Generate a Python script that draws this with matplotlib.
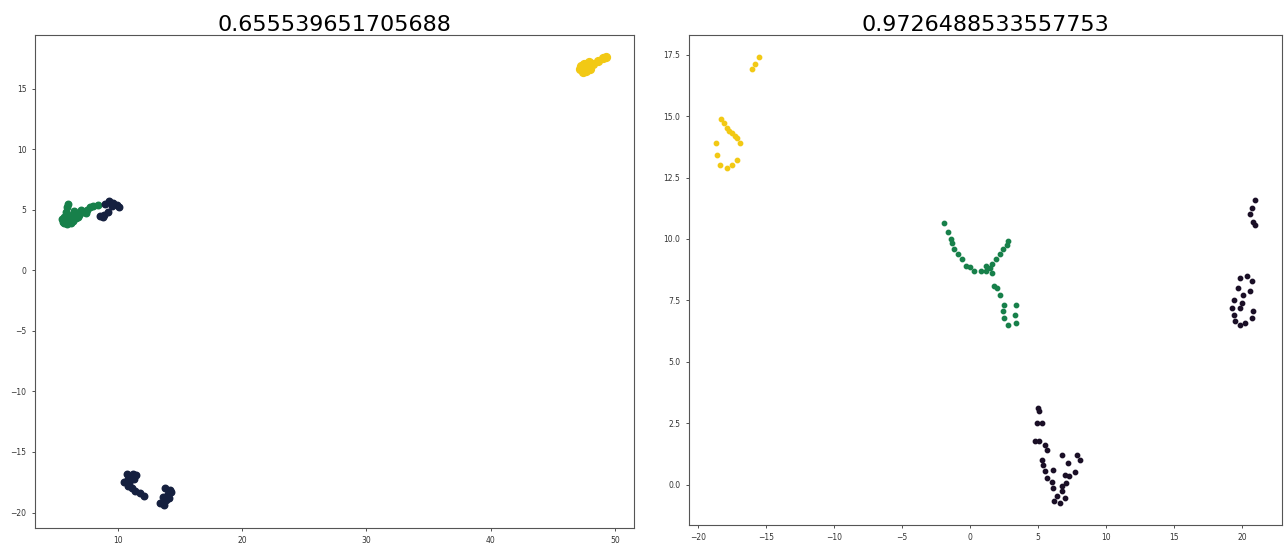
import numpy as np
import matplotlib
matplotlib.use("Agg")
import matplotlib.pyplot as plt
from matplotlib.ticker import MultipleLocator

# ---------------- data ----------------
TITLE_L = "0.655539651705688"
TITLE_R = "0.9726488533557753"

# left panel
l_yellow_x = [47.2, 47.5, 47.8, 47.4, 47.9, 48.2, 48.6, 49.0, 49.3, 47.6, 48.0, 47.3, 47.7]
l_yellow_y = [16.6, 17.0, 16.8, 16.4, 17.2, 17.0, 17.3, 17.5, 17.6, 16.7, 16.6, 16.9, 16.5]

l_green_x = [5.6, 5.7, 5.8, 5.9, 6.0, 5.9, 6.1, 6.3, 6.5, 6.2, 6.6, 6.9, 7.2, 7.5,
             7.8, 6.0, 5.7, 6.4, 7.0, 8.0, 8.4, 5.5, 6.8, 7.4]
l_green_y = [4.0, 4.4, 4.8, 5.2, 5.5, 3.8, 4.2, 4.6, 4.9, 3.9, 4.3, 4.6, 4.8, 5.0,
             5.2, 4.5, 3.9, 4.1, 5.0, 5.3, 5.4, 4.2, 4.4, 4.7]

l_navy_x = [8.6, 8.9, 9.2, 9.0, 9.3, 9.6, 9.9, 10.1, 9.5, 8.8,
            10.7, 10.8, 11.2, 11.3, 11.5, 10.5, 10.8, 11.1, 11.4, 11.8, 12.1, 10.9,
            13.8, 14.2, 14.0, 13.6, 13.9, 13.4, 13.7, 14.1, 14.3]
l_navy_y = [4.5, 4.6, 4.8, 5.5, 5.7, 5.6, 5.4, 5.2, 5.3, 4.4,
            -16.8, -17.2, -16.8, -17.2, -16.9, -17.5, -17.8, -18.0, -18.2, -18.4, -18.6, -17.6,
            -18.0, -18.1, -18.5, -18.7, -19.0, -19.2, -19.4, -18.8, -18.3]

# right panel
r_yellow_x = [-15.5, -16.0, -15.8, -18.3, -18.1, -17.9, -17.7, -17.5, -17.3, -17.1,
              -16.9, -18.7, -18.6, -18.4, -17.9, -17.5, -17.1]
r_yellow_y = [17.4, 16.9, 17.1, 14.9, 14.7, 14.5, 14.4, 14.3, 14.2, 14.1,
              13.9, 13.9, 13.4, 13.0, 12.9, 13.0, 13.2]

r_green_x = [-1.9, -1.65, -1.4, -1.3, -1.15, -0.9, -0.6, -0.3, 0.0, 0.3, 0.8, 1.2,
             1.45, 1.6, 1.9, 2.2, 2.4, 2.75, 2.8, 1.8, 2.0, 2.2, 2.5, 2.4, 2.5, 2.8,
             3.4, 3.3, 3.4, 1.2, 1.6]
r_green_y = [10.65, 10.3, 10.0, 9.85, 9.6, 9.4, 9.2, 8.9, 8.85, 8.7, 8.7, 8.7,
             8.8, 9.0, 9.2, 9.4, 9.6, 9.75, 9.9, 8.1, 8.0, 7.7, 7.3, 7.05, 6.8, 6.5,
             7.3, 6.9, 6.6, 8.9, 8.6]

r_dark_x = [4.98, 5.1, 4.9, 5.3, 4.75, 5.1, 5.5, 5.7, 5.3, 5.35, 5.5, 5.7, 6.0, 6.1,
            6.4, 6.6, 6.2, 7.0, 6.1, 6.8, 7.2, 7.9, 8.1, 7.7, 7.3, 7.0, 7.1, 6.8, 6.75,
            21.0, 20.75, 20.6, 20.85, 21.0,
            19.9, 20.4, 20.75, 19.7, 20.1, 20.6, 19.4, 20.0, 19.3, 19.9, 20.85, 19.4,
            20.75, 19.5, 19.9, 20.25]
r_dark_y = [3.13, 3.0, 2.5, 2.5, 1.8, 1.8, 1.6, 1.4, 1.0, 0.8, 0.57, 0.28, 0.1, -0.12,
            -0.45, -0.73, -0.65, -0.53, 0.6, 1.2, 0.9, 1.2, 1.0, 0.5, 0.37, 0.4, 0.08, -0.04, -0.25,
            11.6, 11.25, 11.0, 10.7, 10.55,
            8.4, 8.5, 8.3, 8.0, 7.7, 7.9, 7.5, 7.4, 7.2, 7.2, 7.07, 6.9,
            6.8, 6.67, 6.5, 6.6]

YELLOW = "#f2c914"
GREEN = "#17804a"
NAVY = "#15203f"
DARK = "#1a0f26"

# ---------------- plot ----------------
fig = plt.figure(figsize=(12.85, 5.44), dpi=100)
ax1 = fig.add_axes([0.027, 0.030, 0.466, 0.906])
ax2 = fig.add_axes([0.536, 0.035, 0.462, 0.901])

ax1.scatter(l_green_x, l_green_y, s=22, color=GREEN)
ax1.scatter(l_navy_x, l_navy_y, s=22, color=NAVY)
ax1.scatter(l_yellow_x, l_yellow_y, s=32, color=YELLOW)
ax1.set_title(TITLE_L, fontsize=16, pad=3)
ax1.xaxis.set_major_locator(MultipleLocator(10))
ax1.yaxis.set_major_locator(MultipleLocator(5))

ax2.scatter(r_yellow_x, r_yellow_y, s=10, color=YELLOW)
ax2.scatter(r_green_x, r_green_y, s=10, color=GREEN)
ax2.scatter(r_dark_x, r_dark_y, s=10, color=DARK)
ax2.set_title(TITLE_R, fontsize=16, pad=3)
ax2.xaxis.set_major_locator(MultipleLocator(5))
ax2.yaxis.set_major_locator(MultipleLocator(2.5))

for ax in (ax1, ax2):
    ax.tick_params(labelsize=5.5, length=2.5, width=0.6, colors="#333333")
    for sp in ax.spines.values():
        sp.set_linewidth(0.8)
        sp.set_color("#555555")

fig.savefig("out.png", dpi=100)
